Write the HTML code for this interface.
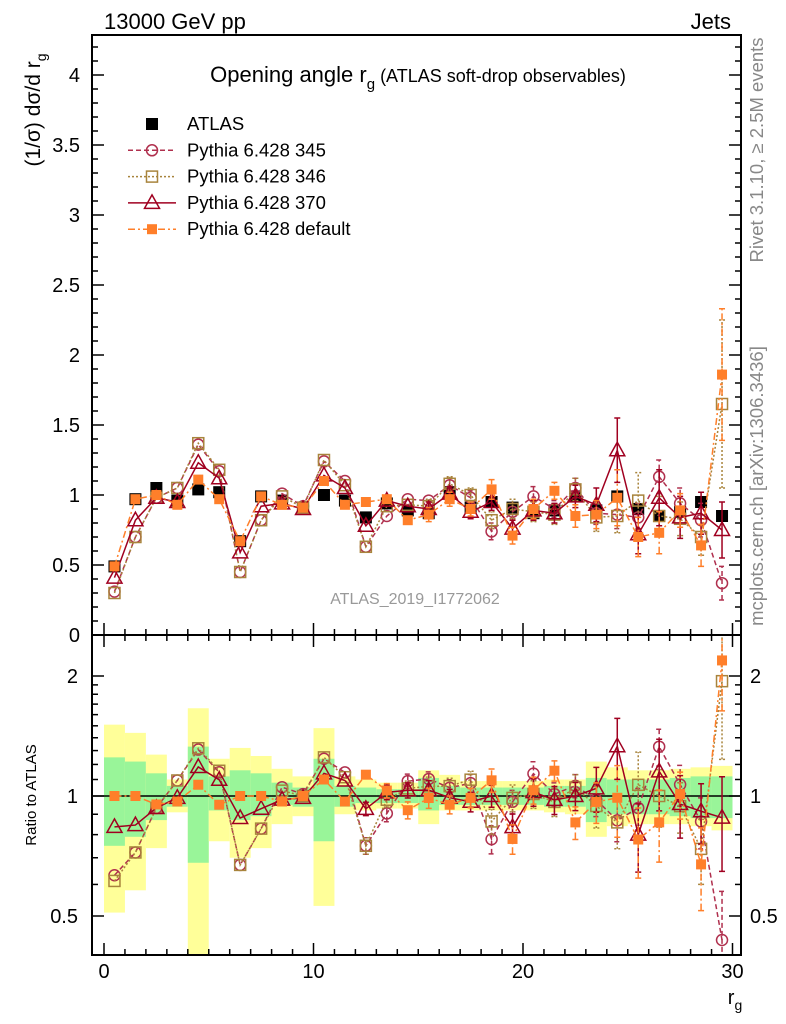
<!DOCTYPE html>
<html><head><meta charset="utf-8"><style>
body{margin:0;background:#fff}
svg{display:block;font-family:"Liberation Sans",sans-serif}
</style></head><body>
<svg id="c" width="786" height="1024" viewBox="0 0 786 1024">
<defs>
<clipPath id="cm"><rect x="92" y="35" width="649" height="600"/></clipPath>
<clipPath id="cr"><rect x="92" y="635" width="649" height="320"/></clipPath>
</defs>
<g id="bands" clip-path="url(#cr)"></g>
<g id="main" clip-path="url(#cm)"></g>
<g id="ratio" clip-path="url(#cr)"></g>
<g id="axes"></g>
<text x="104" y="29" font-size="22">13000 GeV pp</text>
<text x="731" y="29" font-size="22" text-anchor="end">Jets</text>
<text x="418" y="82" font-size="22" text-anchor="middle">Opening angle r<tspan font-size="15" dy="7">g</tspan><tspan dy="-7" font-size="18"> (ATLAS soft-drop observables)</tspan></text>
<text x="415" y="604" font-size="16" fill="#999" text-anchor="middle">ATLAS_2019_I1772062</text>
<text transform="translate(40,110) rotate(-90)" font-size="21" text-anchor="middle">(1/σ) dσ/d r<tspan font-size="14" dy="6">g</tspan></text>
<text transform="translate(36,795) rotate(-90)" font-size="15" text-anchor="middle">Ratio to ATLAS</text>
<text x="735" y="1004" font-size="20" text-anchor="middle">r<tspan font-size="14" dy="6">g</tspan></text>
<text transform="translate(763,150) rotate(-90)" font-size="18.5" fill="#888" text-anchor="middle">Rivet 3.1.10, ≥ 2.5M events</text>
<text transform="translate(763,486) rotate(-90)" font-size="18.5" fill="#888" text-anchor="middle">mcplots.cern.ch [arXiv:1306.3436]</text>
<g id="legend"></g>
</svg>
<script>
const atlas=[0.49,0.97,1.05,0.96,1.04,1.02,0.67,0.99,0.96,0.91,1.00,0.96,0.84,0.94,0.89,0.87,1.02,0.91,0.95,0.91,0.87,0.89,0.99,0.89,0.99,0.90,0.85,0.88,0.95,0.85];
const p345=[0.31,0.70,0.98,1.05,1.36,1.17,0.45,0.82,1.01,0.92,1.24,1.10,0.63,0.85,0.97,0.96,1.07,0.98,0.74,0.88,0.99,0.90,1.05,0.87,0.86,0.84,1.13,0.94,0.82,0.37];
const p346=[0.30,0.70,0.98,1.05,1.37,1.18,0.45,0.82,0.99,0.91,1.25,1.07,0.63,0.92,0.93,0.92,1.08,1.00,0.82,0.90,0.88,0.86,1.04,0.84,0.85,0.96,0.85,0.83,0.70,1.65];
const p370=[0.41,0.82,0.98,0.95,1.23,1.12,0.59,0.92,0.94,0.90,1.14,1.05,0.78,0.96,0.92,0.90,1.01,0.88,0.95,0.76,0.89,0.87,0.99,0.93,1.32,0.72,0.98,0.84,0.87,0.75];
const pdef=[0.49,0.97,1.00,0.93,1.11,0.97,0.67,0.99,0.93,0.91,1.10,0.93,0.95,0.97,0.82,0.86,0.97,0.90,1.04,0.71,0.90,1.03,0.85,0.86,0.98,0.70,0.73,0.89,0.64,1.86];
const e345=[0.01,0.01,0.01,0.01,0.02,0.02,0.01,0.02,0.02,0.02,0.03,0.03,0.03,0.04,0.04,0.04,0.05,0.05,0.06,0.06,0.07,0.06,0.07,0.08,0.10,0.10,0.12,0.11,0.12,0.12];
const e346=[0.01,0.01,0.01,0.01,0.02,0.02,0.01,0.02,0.02,0.02,0.03,0.03,0.03,0.04,0.04,0.05,0.05,0.05,0.06,0.07,0.07,0.07,0.08,0.10,0.12,0.20,0.14,0.12,0.13,0.60];
const e370=[0.01,0.01,0.01,0.01,0.02,0.02,0.01,0.02,0.02,0.02,0.03,0.03,0.03,0.04,0.04,0.05,0.05,0.05,0.06,0.06,0.07,0.07,0.08,0.12,0.23,0.14,0.20,0.15,0.15,0.20];
const edef=[0.01,0.01,0.01,0.01,0.02,0.02,0.01,0.02,0.02,0.02,0.03,0.03,0.03,0.04,0.04,0.05,0.05,0.05,0.07,0.06,0.07,0.06,0.08,0.10,0.20,0.14,0.15,0.12,0.15,0.47];
const yHi=[1.51,1.44,1.27,1.10,1.66,1.24,1.32,1.26,1.17,1.12,1.48,1.12,1.10,1.08,1.08,1.16,1.13,1.09,1.09,1.09,1.09,1.10,1.10,1.22,1.18,1.16,1.16,1.17,1.18,1.19];
const yLo=[0.51,0.58,0.74,0.91,0.30,0.77,0.70,0.74,0.85,0.89,0.53,0.90,0.92,0.93,0.93,0.85,0.92,0.92,0.92,0.92,0.92,0.91,0.90,0.79,0.84,0.85,0.85,0.85,0.84,0.82];
const gHi=[1.25,1.22,1.14,1.06,1.33,1.12,1.16,1.14,1.08,1.05,1.24,1.06,1.05,1.04,1.04,1.11,1.06,1.05,1.05,1.05,1.05,1.06,1.06,1.11,1.10,1.10,1.10,1.11,1.12,1.12];
const gLo=[0.75,0.79,0.87,0.94,0.68,0.92,0.87,0.89,0.95,0.94,0.77,0.94,0.96,0.96,0.96,0.92,0.95,0.95,0.95,0.95,0.95,0.94,0.94,0.86,0.90,0.90,0.90,0.89,0.88,0.88];
const xTicks=[0,10,20,30];
const mainTicks=["0","0.5","1","1.5","2","2.5","3","3.5","4"];

const NS="http://www.w3.org/2000/svg";
const X=v=>104+20.95*v, MY=v=>635-140*v, RY=r=>796-120*Math.log2(r);
function mk(p,tag,a){const e=document.createElementNS(NS,tag);for(const k in a)e.setAttribute(k,a[k]);p.appendChild(e);return e;}
const gm=document.getElementById('main'),gr=document.getElementById('ratio'),gb=document.getElementById('bands'),ga=document.getElementById('axes'),gl=document.getElementById('legend');

atlas.forEach((_,i)=>{
  const y=mk(gb,'rect',{x:X(i),y:RY(yHi[i]),width:20.95,height:RY(yLo[i])-RY(yHi[i]),fill:'#ffff99'});
  
  
  const g=mk(gb,'rect',{x:X(i),y:RY(gHi[i]),width:20.95,height:RY(gLo[i])-RY(gHi[i]),fill:'#99f599'});
  
  
});
const one=mk(gr,'line',{x1:92,x2:741,y1:RY(1),y2:RY(1),stroke:'#000','stroke-width':1.5});



function marker(p,type,x,y,col){
  let e;
  if(type==='fsq')e=mk(p,'rect',{x:x-5,y:y-5,width:10,height:10,fill:col});
  else if(type==='bsq')e=mk(p,'rect',{x:x-6,y:y-6,width:12,height:12,fill:'#000'});
  else if(type==='osq')e=mk(p,'rect',{x:x-5.5,y:y-5.5,width:11,height:11,fill:'none',stroke:col,'stroke-width':1.5});
  else if(type==='circ')e=mk(p,'circle',{cx:x,cy:y,r:5.5,fill:'none',stroke:col,'stroke-width':1.5});
  else e=mk(p,'path',{d:`M${x} ${y-8}L${x+7.5} ${y+5.5}L${x-7.5} ${y+5.5}Z`,fill:'none',stroke:col,'stroke-width':1.5});
  return e;
}
const series=[
 {v:p345,e:e345,col:'#b0304e',dash:'5,3',m:'circ',name:'pythia-345'},
 {v:p346,e:e346,col:'#a8843c',dash:'2,2',m:'osq',name:'pythia-346'},
 {v:p370,e:e370,col:'#a00020',dash:'',m:'tri',name:'pythia-370'},
 {v:pdef,e:edef,col:'#ff7f2a',dash:'7,3,2,3',m:'fsq',name:'pythia-default'}
];
atlas.forEach((v,i)=>{
  const e=marker(gm,'bsq',X(i+0.5),MY(v));
  
  
});
series.forEach(s=>{
  [[gm,MY],[gr,RY]].forEach(([g,Yf],k)=>{
    const val=i=>k===0?s.v[i]:s.v[i]/atlas[i];
    const err=i=>k===0?s.e[i]:s.e[i]/atlas[i];
    const pts=s.v.map((_,i)=>X(i+0.5)+','+Yf(val(i))).join(' ');
    const pl=mk(g,'polyline',{points:pts,fill:'none',stroke:s.col,'stroke-width':1.5,'stroke-dasharray':s.dash});
    
    
    s.v.forEach((_,i)=>{
      const x=X(i+0.5),lo=Yf(Math.max(val(i)-err(i),0.01)),hi=Yf(val(i)+err(i));
      if(lo-hi>12){
        const eb=mk(g,'path',{d:`M${x} ${lo}V${hi}M${x-3} ${lo}H${x+3}M${x-3} ${hi}H${x+3}`,stroke:s.col,'stroke-width':1.5,'stroke-dasharray':s.dash,fill:'none'});
        
        
      }
      const m=marker(g,s.m,x,Yf(val(i)),s.col);
      
      
    });
  });
});
[[35,600],[635,320]].forEach(([y,h])=>{
  const f=mk(ga,'rect',{x:92,y:y,width:649,height:h,fill:'none',stroke:'#000','stroke-width':2});
  
  
});
for(let v=0;v<=30;v++){
  const L=v%10===0?12:6;
  mk(ga,'line',{x1:X(v),x2:X(v),y1:955,y2:955-L,stroke:'#000','stroke-width':1.5});
  mk(ga,'line',{x1:X(v),x2:X(v),y1:635,y2:635-L,stroke:'#000','stroke-width':1.5});
  mk(ga,'line',{x1:X(v),x2:X(v),y1:635,y2:635+L,stroke:'#000','stroke-width':1.5});
}
xTicks.forEach(t=>{
  const e=mk(ga,'text',{x:X(t),y:978,'font-size':20,'text-anchor':'middle'});e.textContent=t;
  
  
});
for(let k=0;k<=42;k++){
  const v=k/10,L=k%5===0?12:6;
  mk(ga,'line',{x1:92,x2:92+L,y1:MY(v),y2:MY(v),stroke:'#000','stroke-width':1.5});
  mk(ga,'line',{x1:741,x2:741-L,y1:MY(v),y2:MY(v),stroke:'#000','stroke-width':1.5});
}
mainTicks.forEach((t,i)=>{
  const e=mk(ga,'text',{x:80,y:MY(i*0.5)+7,'font-size':20,'text-anchor':'end'});e.textContent=t;
  
  
});
[0.5,0.6,0.7,0.8,0.9,1,1.1,1.2,1.3,1.4,1.5,1.6,1.7,1.8,1.9,2].forEach(r=>{
  const L=(r===0.5||r===1||r===2)?12:6;
  mk(ga,'line',{x1:92,x2:92+L,y1:RY(r),y2:RY(r),stroke:'#000','stroke-width':1.5});
  mk(ga,'line',{x1:741,x2:741-L,y1:RY(r),y2:RY(r),stroke:'#000','stroke-width':1.5});
});
[["2",2],["1",1],["0.5",0.5]].forEach(([t,r])=>{
  let e=mk(ga,'text',{x:78,y:RY(r)+7,'font-size':20,'text-anchor':'end'});e.textContent=t;
  
  
  e=mk(ga,'text',{x:750,y:RY(r)+7,'font-size':20});e.textContent=t;
  
  
});
const leg=[['bsq','#000','','ATLAS'],['circ','#b0304e','5,3','Pythia 6.428 345'],['osq','#a8843c','2,2','Pythia 6.428 346'],['tri','#a00020','','Pythia 6.428 370'],['fsq','#ff7f2a','7,3,2,3','Pythia 6.428 default']];
leg.forEach(([m,c,d,t],i)=>{
  const y=124+26.3*i;
  if(i>0)mk(gl,'line',{x1:128,x2:176,y1:y,y2:y,stroke:c,'stroke-width':1.5,'stroke-dasharray':d});
  marker(gl,m,152,y,c);
  const e=mk(gl,'text',{x:187,y:y+6,'font-size':18.5});e.textContent=t;
  
  
});
</script>
</body></html>
